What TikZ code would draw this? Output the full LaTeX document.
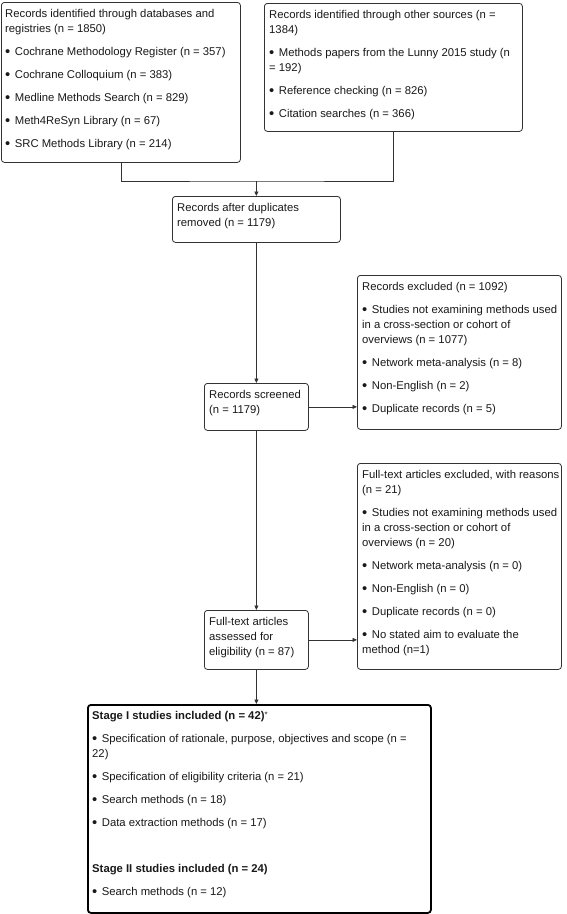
\documentclass[tikz,border=0pt]{standalone}
\usepackage{fontspec}
\setmainfont{Liberation Sans}
\usetikzlibrary{arrows.meta}
\newcommand\tb[1]{\parbox[t]{320pt}{\fontsize{11.3}{15}\selectfont\raggedright #1}}
\newcommand\bul{\raisebox{-1.6pt}{\scalebox{1.3}{\textbullet}}\hspace{4.5pt}}
\begin{document}
\begin{tikzpicture}[x=1pt,y=-1pt,
  box/.style={draw=black!80, line width=0.8pt, rounded corners=3pt, inner sep=0pt, anchor=north west},
  bigbox/.style={box, line width=1.8pt, draw=black},
  txt/.style={inner sep=0pt, anchor=base west, text=black!90},
  link/.style={draw=black!80, line width=0.8pt},
  arr/.style={link, -{Triangle[length=4.5pt,width=4pt]}}]
\useasboundingbox (0,0) rectangle (567,914);
\fill[white] (0,0) rectangle (567,914);

% boxes
\node[box, minimum width=239pt, minimum height=160pt] (b1) at (1,2) {};
\node[box, minimum width=258pt, minimum height=128pt] (b2) at (264,3) {};
\node[box, minimum width=168pt, minimum height=46pt] (b3) at (172,196) {};
\node[box, minimum width=104pt, minimum height=47pt] (scr) at (204,383) {};
\node[box, minimum width=204pt, minimum height=154pt] (exc) at (357,275) {};
\node[box, minimum width=104pt, minimum height=59pt] (ass) at (204,610) {};
\node[box, minimum width=204pt, minimum height=206pt] (ftx) at (357,463) {};
\node[bigbox, minimum width=343pt, minimum height=208pt] (inc) at (87,704) {};

% texts
\node[txt] (t1) at (5,17) {\tb{Records identified through databases and\\
registries (n = 1850)\\[8pt]
\bul Cochrane Methodology Register (n = 357)\\[8pt]
\bul Cochrane Colloquium (n = 383)\\[8pt]
\bul Medline Methods Search (n = 829)\\[8pt]
\bul Meth4ReSyn Library (n = 67)\\[8pt]
\bul SRC Methods Library (n = 214)}};

\node[txt] (t2) at (269,18) {\tb{Records identified through other sources (n =\\
1384)\\[8pt]
\bul Methods papers from the Lunny 2015 study (n\\
= 192)\\[8pt]
\bul Reference checking (n = 826)\\[8pt]
\bul Citation searches (n = 366)}};

\node[txt] (t3) at (177,211) {\tb{Records after duplicates\\
removed (n = 1179)}};

\node[txt] (t4) at (209,398) {\tb{Records screened\\
(n = 1179)}};

\node[txt] (t5) at (362,290) {\tb{Records excluded (n = 1092)\\[8pt]
\bul Studies not examining methods used\\
in a cross-section or cohort of\\
overviews (n = 1077)\\[8pt]
\bul Network meta-analysis (n = 8)\\[8pt]
\bul Non-English (n = 2)\\[8pt]
\bul Duplicate records (n = 5)}};

\node[txt] (t6) at (209,625) {\tb{Full-text articles\\
assessed for\\
eligibility (n = 87)}};

\node[txt] (t7) at (362,478) {\tb{Full-text articles excluded, with reasons\\
(n = 21)\\[8pt]
\bul Studies not examining methods used\\
in a cross-section or cohort of\\
overviews (n = 20)\\[8pt]
\bul Network meta-analysis (n = 0)\\[8pt]
\bul Non-English (n = 0)\\[8pt]
\bul Duplicate records (n = 0)\\[8pt]
\bul No stated aim to evaluate the\\
method (n=1)}};

\node[txt] (t8) at (92,719) {\tb{\textbf{Stage I studies included (n = 42)}\raisebox{1.5pt}{\fontsize{8}{8}\selectfont *}\\[8pt]
\bul Specification of rationale, purpose, objectives and scope (n =\\
22)\\[8pt]
\bul Specification of eligibility criteria (n = 21)\\[8pt]
\bul Search methods (n = 18)\\[8pt]
\bul Data extraction methods (n = 17)\\[8pt]
\mbox{}\\[8pt]
\textbf{Stage II studies included (n = 24)}\\[8pt]
\bul Search methods (n = 12)}};

% connectors
\coordinate (m) at (b3.north |- 0,181);
\draw[link] (b1.south) |- (m) -| (b2.south);
\draw[arr] (m) -- (b3.north);
\draw[arr] (b3.south) -- (scr.north);
\draw[arr] (scr.east) -- (scr.east -| exc.west);
\draw[arr] (scr.south) -- (ass.north);
\draw[arr] (ass.east) -- (ass.east -| ftx.west);
\draw[arr] (ass.south) -- (ass.south |- inc.north);
\end{tikzpicture}
\end{document}
